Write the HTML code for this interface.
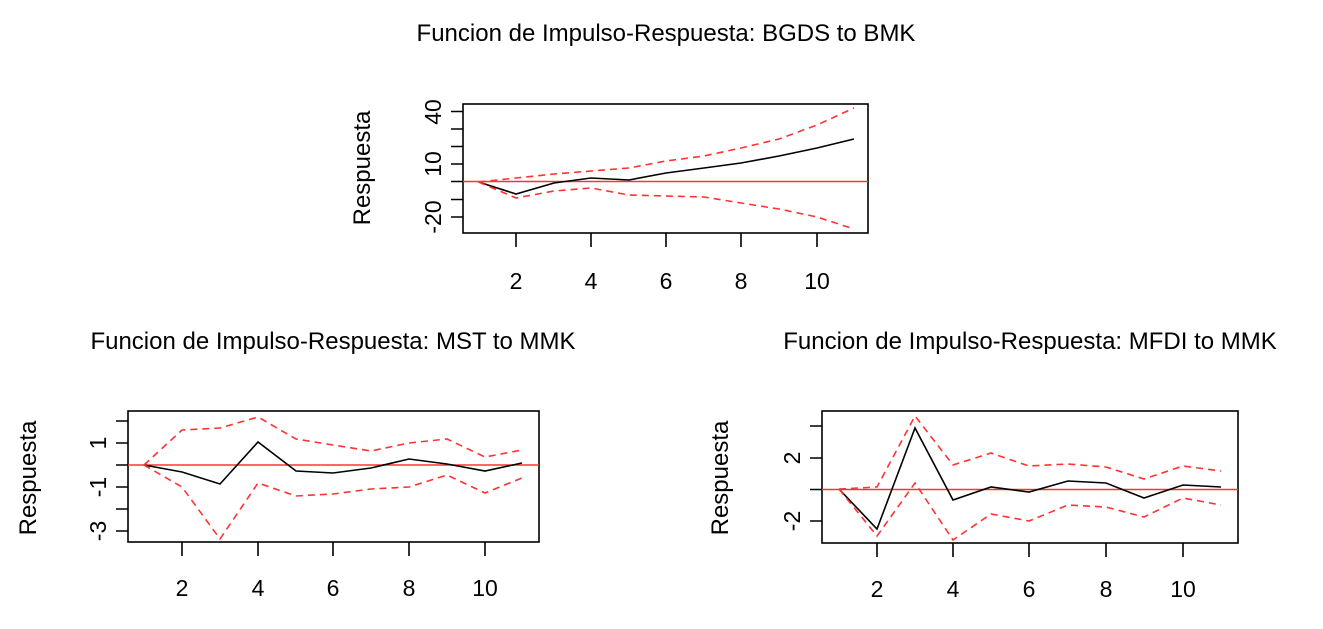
<!DOCTYPE html>
<html><head><style>body{margin:0;background:#fff}svg{display:block}text{font-family:"Liberation Sans",Arial,sans-serif;fill:#000}</style></head><body>
<svg width="1323" height="629" xmlns="http://www.w3.org/2000/svg">
<g font-size="24" text-anchor="middle">
<text x="666" y="41">Funcion de Impulso-Respuesta: BGDS to BMK</text>
<text x="333" y="349">Funcion de Impulso-Respuesta: MST to MMK</text>
<text x="1030" y="349">Funcion de Impulso-Respuesta: MFDI to MMK</text>
</g>
<g font-size="24" text-anchor="middle">
<text transform="translate(370,168) rotate(-90)">Respuesta</text>
<text transform="translate(36,478) rotate(-90)">Respuesta</text>
<text transform="translate(728,478) rotate(-90)">Respuesta</text>
</g>
<!-- top -->
<g fill="none" stroke-width="1.6">
<rect x="463" y="104" width="405" height="129" stroke="#000"/>
<line x1="463" y1="181.5" x2="868" y2="181.5" stroke="#f33"/>
<polyline stroke="#000" points="478.5,182 516,194 554,183 591,178 629,180 666,173 704,168 741,163 779,156 817,148 854,139"/>
<polyline stroke="#f33" stroke-dasharray="7,5" points="478.5,182 516,178 554,174 591,171 629,168 666,161 704,156 741,148 779,139 817,125 854,108"/>
<polyline stroke="#f33" stroke-dasharray="7,5" points="478.5,182 516,198 554,191 591,188 629,195 666,196 704,197 741,203 779,209 817,217 854,229"/>
<path stroke="#000" d="M463,217h-12M463,199.5h-12M463,181.5h-12M463,164h-12M463,146.5h-12M463,129h-12M463,111.5h-12M516,233v14M591,233v14M666,233v14M741,233v14M817,233v14"/>
</g>
<g font-size="23" text-anchor="middle">
<text transform="translate(433,217) rotate(-90)" dy="8">-20</text>
<text transform="translate(433,164) rotate(-90)" dy="8">10</text>
<text transform="translate(433,112) rotate(-90)" dy="8">40</text>
<text x="516" y="289">2</text><text x="591" y="289">4</text><text x="666" y="289">6</text><text x="741" y="289">8</text><text x="817" y="289">10</text>
</g>
<!-- bottom left -->
<g fill="none" stroke-width="1.6">
<rect x="128" y="411" width="411" height="131" stroke="#000"/>
<line x1="128" y1="465" x2="539" y2="465" stroke="#f33"/>
<polyline stroke="#000" points="144,465 182,472 220,484 258,442 296,471 333,473 371,468 409,459 447,464 485,471 522,463"/>
<polyline stroke="#f33" stroke-dasharray="7,5" points="144,465 182,430 220,428 258,417 296,439 333,445 371,451 409,443 447,439 485,457 522,450"/>
<polyline stroke="#f33" stroke-dasharray="7,5" points="144,465 182,487 220,539 258,483 296,496 333,494 371,489 409,487 447,475 485,493 522,478"/>
<path stroke="#000" d="M128,421h-12M128,443h-12M128,465h-12M128,487h-12M128,509h-12M128,531h-12M182,542v14M258,542v14M333,542v14M409,542v14M485,542v14"/>
</g>
<g font-size="23" text-anchor="middle">
<text transform="translate(98,443) rotate(-90)" dy="8">1</text>
<text transform="translate(98,487) rotate(-90)" dy="8">-1</text>
<text transform="translate(98,531) rotate(-90)" dy="8">-3</text>
<text x="182" y="596">2</text><text x="258" y="596">4</text><text x="333" y="596">6</text><text x="409" y="596">8</text><text x="485" y="596">10</text>
</g>
<!-- bottom right -->
<g fill="none" stroke-width="1.6">
<rect x="822" y="411" width="416" height="132" stroke="#000"/>
<line x1="822" y1="489.5" x2="1238" y2="489.5" stroke="#f33"/>
<polyline stroke="#000" points="839,489 877,529 915,428 953,500 991,487 1029,492 1068,481 1106,483 1144,498 1183,485 1221,487"/>
<polyline stroke="#f33" stroke-dasharray="7,5" points="839,489 877,487 915,416 953,465 991,453 1029,466 1068,464 1106,467 1144,479 1183,466 1221,471"/>
<polyline stroke="#f33" stroke-dasharray="7,5" points="839,489 877,536 915,483 953,540 991,514 1029,521 1068,505 1106,507 1144,517 1183,498 1221,505"/>
<path stroke="#000" d="M822,426h-12M822,458h-12M822,489.5h-12M822,521h-12M877,543v14M953,543v14M1029,543v14M1106,543v14M1183,543v14"/>
</g>
<g font-size="23" text-anchor="middle">
<text transform="translate(792,458) rotate(-90)" dy="8">2</text>
<text transform="translate(792,521) rotate(-90)" dy="8">-2</text>
<text x="877" y="597">2</text><text x="953" y="597">4</text><text x="1029" y="597">6</text><text x="1106" y="597">8</text><text x="1183" y="597">10</text>
</g>
</svg>
</body></html>
